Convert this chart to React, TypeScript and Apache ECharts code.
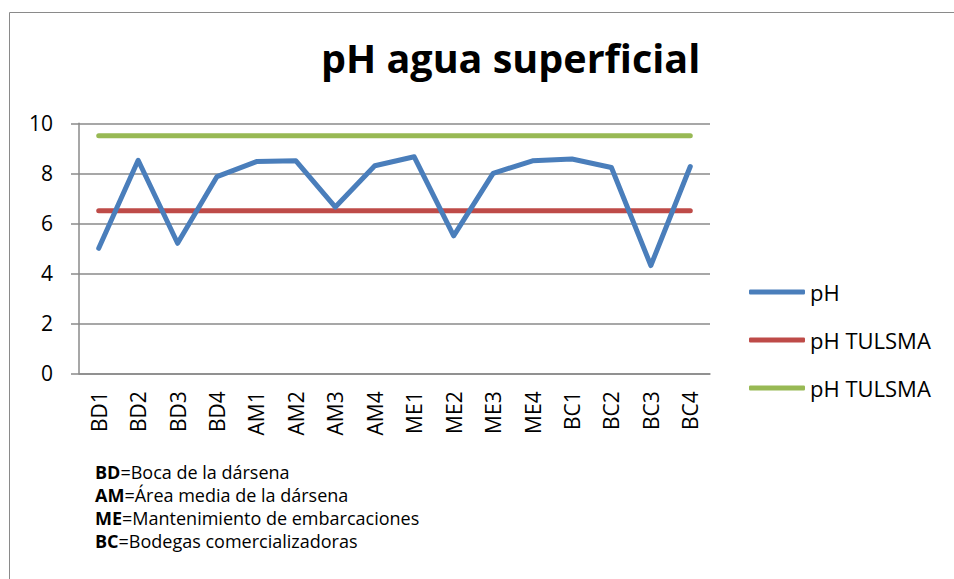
import React, { useEffect, useRef } from "react";
import * as echarts from "echarts";

const categories = ["BD1","BD2","BD3","BD4","AM1","AM2","AM3","AM4","ME1","ME2","ME3","ME4","BC1","BC2","BC3","BC4"];
const phValues = [5.0, 8.52, 5.2, 7.87, 8.47, 8.5, 6.65, 8.3, 8.66, 5.5, 8.0, 8.5, 8.57, 8.23, 4.31, 8.27];
const tulsmaMin = [6.5,6.5,6.5,6.5,6.5,6.5,6.5,6.5,6.5,6.5,6.5,6.5,6.5,6.5,6.5,6.5];
const tulsmaMax = [9.5,9.5,9.5,9.5,9.5,9.5,9.5,9.5,9.5,9.5,9.5,9.5,9.5,9.5,9.5,9.5];
const seriesNames = ["pH", "pH TULSMA min", "pH TULSMA max"];
const legendLabels = ["pH", "pH TULSMA", "pH TULSMA"];
const title = "pH agua superficial";
const footAbbr = ["BD", "AM", "ME", "BC"];
const footText = ["Boca de la dársena", "Área media de la dársena", "Mantenimiento de embarcaciones", "Bodegas comercializadoras"];

const FONT = "'Open Sans', sans-serif";

export default function App() {
  const ref = useRef<HTMLDivElement>(null);
  useEffect(() => {
    document.body.style.margin = "0";
    const chart = echarts.init(ref.current!, null, { renderer: "svg" });
    const gridColor = "#8a8a8a";
    const colors = ["#4a7ebb", "#be4b48", "#98b954"];
    const dataSets = [phValues, tulsmaMin, tulsmaMax];
    chart.setOption({
      animation: false,
      backgroundColor: "#ffffff",
      textStyle: { fontFamily: FONT },
      grid: { left: 79, right: 244, top: 123.3, bottom: 205.7, containLabel: false },
      legend: {
        orient: "vertical",
        left: 749,
        top: 281,
        padding: 0,
        icon: "roundRect",
        itemWidth: 56,
        itemHeight: 5,
        itemGap: 26,
        data: seriesNames,
        formatter: (n: string) => legendLabels[seriesNames.indexOf(n)],
        textStyle: { fontSize: 22, color: "#000", fontFamily: FONT },
      },
      xAxis: {
        type: "category",
        data: categories,
        boundaryGap: true,
        axisLine: { lineStyle: { color: gridColor, width: 1.5 } },
        axisTick: { show: false },
        axisLabel: { rotate: 90, fontSize: 21, color: "#000", margin: 18, fontFamily: FONT },
      },
      yAxis: {
        type: "value",
        min: 0,
        max: 10,
        interval: 2,
        axisLine: { show: true, lineStyle: { color: gridColor, width: 1.5 } },
        axisTick: { show: true, inside: false, length: 8, lineStyle: { color: gridColor, width: 1.5 } },
        splitLine: { lineStyle: { color: gridColor, width: 1.5 } },
        axisLabel: { fontSize: 21, color: "#000", margin: 26, fontFamily: FONT },
      },
      series: dataSets.map((d, i) => ({
        type: "line",
        name: seriesNames[i],
        data: d,
        symbol: "none",
        showSymbol: false,
        color: colors[i],
        z: i === 0 ? 5 : 3,
        lineStyle: { color: colors[i], width: 5, cap: "round", join: "round" },
        itemStyle: { color: colors[i] },
      })),
      graphic: [
        {
          type: "rect",
          shape: { x: 9.5, y: 12.5, width: 1000, height: 700 },
          style: { fill: "none", stroke: "#8a8a8a", lineWidth: 1 },
          silent: true,
          z: -1,
        },
        {
          type: "text",
          x: 321,
          y: 58,
          style: {
            text: title,
            fontSize: 39.5,
            fontWeight: "bold",
            fontFamily: FONT,
            fill: "#000",
            verticalAlign: "middle",
            align: "left",
          },
        },
        ...footAbbr.map((a, i) => ({
          type: "text",
          x: 95,
          y: 472 + i * 23,
          style: {
            text: `{b|${a}}=${footText[i]}`,
            fontSize: 18,
            fontFamily: FONT,
            fill: "#000",
            verticalAlign: "middle",
            rich: { b: { fontWeight: "bold", fontSize: 18, fontFamily: FONT, fill: "#000" } },
          },
        })),
      ],
    });
    return () => chart.dispose();
  }, []);
  return <div ref={ref} style={{ width: 954, height: 579 }} />;
}
